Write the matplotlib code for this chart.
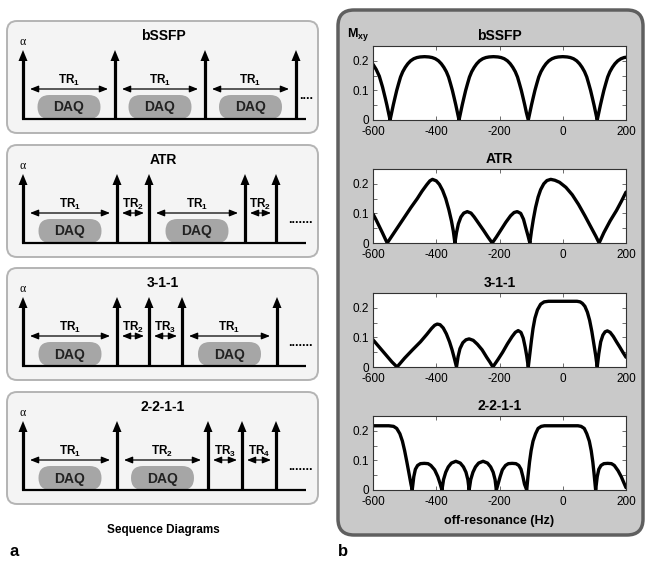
import matplotlib.pyplot as plt
import numpy as np
from matplotlib.patches import FancyBboxPatch

plt.rcParams['font.family'] = ['Liberation Sans', 'DejaVu Sans']
plt.rcParams['mathtext.fontset'] = 'custom'
plt.rcParams['mathtext.rm'] = 'Liberation Sans'
plt.rcParams['mathtext.bf'] = 'Liberation Sans:bold'
plt.rcParams['axes.unicode_minus'] = False

# ---- sequence diagrams (left) ----
seq_names = ['bSSFP', 'ATR', '3-1-1', '2-2-1-1']
# pulse times relative to the first pulse
pulse_times = [[0, 92, 182, 273],
               [0, 94, 126, 222, 253],
               [0, 94, 126, 159, 254],
               [0, 94, 185, 219, 253]]
tr_labels = [['1', '1', '1'],
             ['1', '2', '1', '2'],
             ['1', '2', '3', '1'],
             ['1', '2', '3', '4']]
daq_intervals = [[0, 1, 2], [0, 2], [0, 3], [0, 1]]
dots = ['....', '.......', '.......', '.......']

# ---- off-resonance profiles (right) ----
bssfp_x = [-600, -590, -580, -570, -561, -556, -551, -546,
           -541, -536, -531, -525, -519, -513, -506, -498, -490, -481, -471, -461, -451, -437,
           -423, -413, -403, -393, -384, -376, -368, -361, -355, -349, -343, -338, -333, -328,
           -323, -318, -313, -307, -301, -295, -288, -280, -272, -263, -253, -243, -233, -219,
           -205, -195, -185, -175, -166, -158, -150, -143, -137, -131, -125, -120, -115, -109,
           -104, -99, -94, -88, -82, -76, -69, -61, -53, -44, -34, -24, -14, 0,
           14, 24, 34, 44, 53, 61, 69, 76, 82, 88, 94, 99, 104, 109,
           114, 119, 124, 130, 136, 142, 149, 157, 165, 174, 184, 194, 200]
bssfp_y = [0.188, 0.171, 0.148, 0.112, 0.073, 0.050, 0.025, 0,
           0.025, 0.050, 0.073, 0.100, 0.123, 0.145, 0.163, 0.178, 0.190, 0.200, 0.207, 0.211, 0.213, 0.214,
           0.213, 0.211, 0.207, 0.200, 0.190, 0.178, 0.163, 0.145, 0.123, 0.100, 0.073, 0.050, 0.025, 0,
           0.025, 0.050, 0.073, 0.100, 0.123, 0.145, 0.163, 0.178, 0.190, 0.200, 0.207, 0.211, 0.213, 0.214,
           0.213, 0.211, 0.207, 0.200, 0.190, 0.178, 0.163, 0.145, 0.123, 0.100, 0.073, 0.050, 0.025, 0,
           0.025, 0.050, 0.073, 0.100, 0.123, 0.145, 0.163, 0.178, 0.190, 0.200, 0.207, 0.211, 0.213, 0.214,
           0.213, 0.211, 0.207, 0.200, 0.190, 0.178, 0.163, 0.145, 0.123, 0.100, 0.073, 0.050, 0.025, 0,
           0.025, 0.050, 0.073, 0.100, 0.123, 0.145, 0.163, 0.178, 0.190, 0.200, 0.207, 0.211, 0.212]

atr_x = [-600, -590, -580, -570, -560, -555,
         -530, -505, -480, -460, -445, -430, -420, -412, -400, -390, -380, -370, -360, -352, -346, -341,
         -336, -330, -322, -313, -302, -290, -280, -265, -250, -237, -223,
         -210, -195, -180, -165, -154, -144, -133, -124, -117, -110, -104,
         -99, -93, -86, -78, -70, -60, -50, -38, -25, -10, 10, 30, 50, 70, 90, 105, 115,
         130, 150, 170, 185, 200]
atr_y = [0.098, 0.078, 0.056, 0.034, 0.011, 0,
         0.040, 0.080, 0.120, 0.150, 0.175, 0.197, 0.210, 0.215, 0.210, 0.198, 0.178, 0.150, 0.112, 0.075, 0.040, 0,
         0.035, 0.065, 0.088, 0.101, 0.106, 0.101, 0.088, 0.065, 0.042, 0.021, 0,
         0.020, 0.045, 0.070, 0.092, 0.103, 0.106, 0.100, 0.080, 0.052, 0.025, 0,
         0.040, 0.080, 0.120, 0.155, 0.180, 0.200, 0.211, 0.215, 0.212, 0.205, 0.188, 0.163, 0.130, 0.092, 0.052, 0.022, 0,
         0.035, 0.075, 0.110, 0.140, 0.172]

s311_x = [-600, -580, -560, -540, -524,
          -500, -475, -450, -430, -415, -405, -397, -388, -378, -368, -358, -350, -343, -336,
          -331, -325, -316, -306, -296, -283, -270, -255, -240, -230, -221,
          -205, -190, -175, -160, -150, -141, -132, -125, -119, -114, -109,
          -104, -99, -94, -88, -80, -70, -59, -45, 0, 45, 55, 62, 70, 78, 85, 92, 98, 104, 109,
          114, 120, 127, 134, 141, 150, 160, 170, 180, 190, 200]
s311_y = [0.092, 0.067, 0.042, 0.017, 0,
          0.030, 0.058, 0.085, 0.110, 0.130, 0.141, 0.145, 0.143, 0.132, 0.112, 0.085, 0.058, 0.030, 0,
          0.035, 0.062, 0.082, 0.092, 0.095, 0.090, 0.077, 0.058, 0.032, 0.016, 0,
          0.025, 0.050, 0.078, 0.103, 0.117, 0.123, 0.117, 0.098, 0.068, 0.038, 0,
          0.045, 0.090, 0.130, 0.165, 0.193, 0.212, 0.220, 0.222, 0.222, 0.222, 0.220, 0.215, 0.205, 0.185, 0.158, 0.120, 0.080, 0.040, 0,
          0.045, 0.085, 0.108, 0.119, 0.122, 0.117, 0.103, 0.085, 0.068, 0.050, 0.033]

s2211_x = [-600, -550, -535, -525, -515, -507, -500, -493, -486, -480, -476,
           -471, -466, -459, -450, -438, -426, -417, -405, -395, -388, -382,
           -377, -370, -362, -352, -338, -324, -314, -306, -300, -296,
           -291, -284, -276, -266, -252, -238, -228, -220, -214, -210,
           -204, -198, -191, -181, -172, -160, -148, -139, -132, -126, -121, -114,
           -110, -105, -100, -94, -86, -78, -68, -58, 48, 58, 68, 76, 84, 90, 95, 99, 102, 104,
           109, 114, 121, 130, 142, 154, 163, 175, 185, 193, 200]
s2211_y = [0.217, 0.217, 0.215, 0.208, 0.190, 0.165, 0.133, 0.095, 0.055, 0.020, 0,
           0.045, 0.070, 0.083, 0.089, 0.090, 0.089, 0.083, 0.068, 0.045, 0.022, 0,
           0.035, 0.060, 0.078, 0.091, 0.097, 0.091, 0.078, 0.060, 0.035, 0,
           0.035, 0.060, 0.078, 0.091, 0.097, 0.091, 0.078, 0.060, 0.035, 0,
           0.022, 0.045, 0.068, 0.083, 0.089, 0.090, 0.089, 0.083, 0.070, 0.045, 0.020, 0,
           0.045, 0.095, 0.133, 0.165, 0.190, 0.208, 0.215, 0.217, 0.217, 0.215, 0.208, 0.190, 0.165, 0.133, 0.095, 0.055, 0.022, 0,
           0.045, 0.070, 0.083, 0.089, 0.090, 0.089, 0.083, 0.065, 0.045, 0.025, 0.008]

profiles = [(bssfp_x, bssfp_y), (atr_x, atr_y), (s311_x, s311_y), (s2211_x, s2211_y)]
xticks = [-600, -400, -200, 0, 200]
yticks = [0, 0.05, 0.1, 0.15, 0.2]
ytick_labels = ['0', '', '0.1', '', '0.2']

fig = plt.figure(figsize=(6.51, 5.67), dpi=100)

# overlay in pixel units for the drawings and frames
ov = fig.add_axes([0, 0, 1, 1])
ov.set_xlim(0, 651)
ov.set_ylim(567, 0)
ov.axis('off')

box_tops = [21, 145, 268, 392]
x0 = 23
for i, name in enumerate(seq_names):
    t = box_tops[i]
    ov.add_patch(FancyBboxPatch((7, t), 311, 112, boxstyle='round,pad=0,rounding_size=10',
                                fc='#f4f4f4', ec='#b4b4b4', lw=1.4, zorder=1))
    ov.text(163, t + 15, name, ha='center', va='center', fontweight='bold', fontsize=10, zorder=3)
    base = t + 98
    xs = [x0 + p for p in pulse_times[i]]

    # acquisition windows
    for k in daq_intervals[i]:
        cx = (xs[k] + xs[k + 1]) / 2
        ov.add_patch(FancyBboxPatch((cx - 31.5, t + 74), 63, 24,
                                    boxstyle='round,pad=0,rounding_size=12',
                                    fc='#a6a6a6', ec='none', zorder=2))
        ov.text(cx, t + 86.5, 'DAQ', ha='center', va='center', fontweight='bold',
                fontsize=10, color='#222222', zorder=3)

    ov.plot([22, 306], [base, base], color='k', lw=1.6, solid_capstyle='butt', zorder=4)

    # RF pulses
    for x in xs:
        ov.plot([x, x], [base, t + 38], color='k', lw=2.3, solid_capstyle='butt', zorder=4)
        ov.fill([x - 4.5, x + 4.5, x], [t + 40, t + 40, t + 29], color='k', lw=0, zorder=4)
    ov.text(x0, t + 21, '\u03b1', ha='center', va='center', fontsize=8.5,
            family=['Liberation Serif', 'DejaVu Serif'], zorder=3)

    # TR arrows
    for k, lab in enumerate(tr_labels[i]):
        a, b = xs[k], xs[k + 1]
        inset = 7 if b - a > 50 else 5
        ov.annotate('', xy=(b - inset, t + 68), xytext=(a + inset, t + 68),
                    arrowprops=dict(arrowstyle='<|-|>,head_length=0.5,head_width=0.2',
                                    lw=0.9, color='k', shrinkA=0, shrinkB=0,
                                    mutation_scale=10), zorder=3)
        ov.text((a + b) / 2, t + 63, r'$\mathbf{TR_{%s}}$' % lab, ha='center',
                va='baseline', fontsize=8.5, zorder=3)

    ov.text(313, t + 78, dots[i], ha='right', va='baseline', fontweight='bold',
            fontsize=9, zorder=3)

ov.text(163, 530, 'Sequence Diagrams', ha='center', va='center', fontweight='bold', fontsize=8.5)
ov.text(14, 552, 'a', ha='center', va='center', fontweight='bold', fontsize=12)

# right panel frame
ov.add_patch(FancyBboxPatch((338, 10), 305, 525, boxstyle='round,pad=0,rounding_size=16',
                            fc='#c9c9c9', ec='#5f5f5f', lw=2.5, zorder=1))
ov.text(347, 37, r'$\mathbf{M_{xy}}$', ha='left', va='baseline', fontsize=9, zorder=3)
ov.text(343, 551, 'b', ha='center', va='center', fontweight='bold', fontsize=12)

# profile axes
ax_left, ax_w, ax_h = 373 / 651, 253 / 651, 74 / 567
ax_bottoms = [1 - 120 / 567, 1 - 243 / 567, 1 - 367 / 567, 1 - 490 / 567]
for i, name in enumerate(seq_names):
    ax = fig.add_axes([ax_left, ax_bottoms[i], ax_w, ax_h])
    px, py = profiles[i]
    ax.plot(px, py, color='k', lw=2.4, solid_joinstyle='round', solid_capstyle='round')
    ax.set_xlim(-600, 200)
    ax.set_ylim(0, 0.25)
    ax.set_xticks(xticks)
    ax.set_xticklabels([str(v) for v in xticks])
    ax.set_yticks(yticks)
    ax.set_yticklabels(ytick_labels)
    ax.tick_params(direction='in', top=True, right=True, length=3, width=0.6,
                   color='#555555', labelsize=8.5)
    ax.tick_params(axis='x', pad=4.5)
    ax.tick_params(axis='y', pad=3)
    for s in ax.spines.values():
        s.set_linewidth(0.8)
        s.set_color('#333333')
    ax.set_title(name, fontweight='bold', fontsize=10, pad=4)
    if i == 3:
        ax.set_xlabel('off-resonance (Hz)', fontweight='bold', fontsize=9, labelpad=5)

fig.savefig('out.png', dpi=100)
